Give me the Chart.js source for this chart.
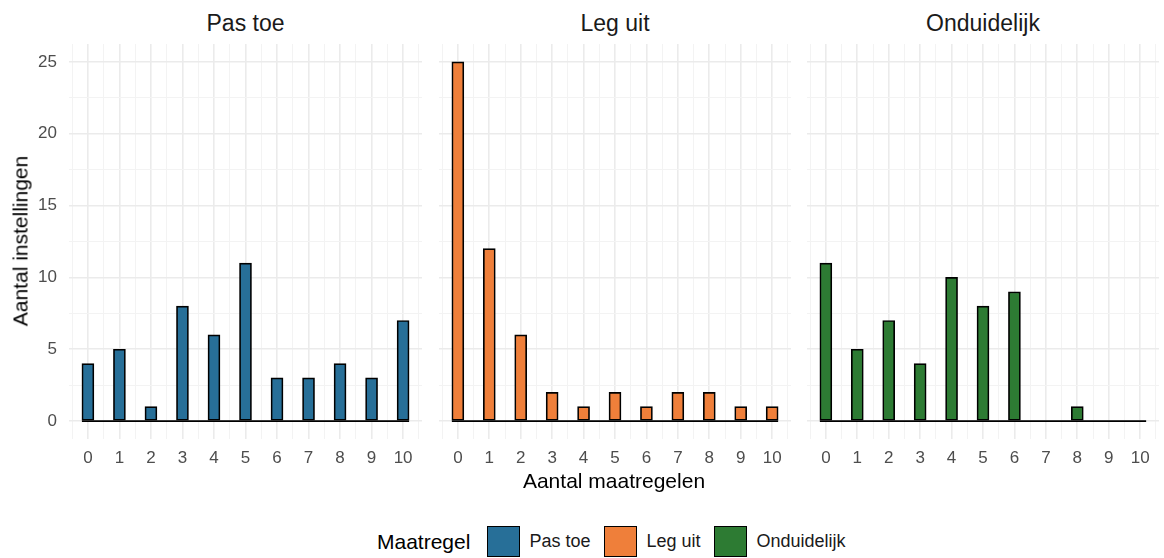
<!DOCTYPE html>
<html>
<head>
<meta charset="utf-8">
<script src="https://cdn.jsdelivr.net/npm/chart.js@4"></script>
<style>
  html, body { margin:0; padding:0; background:#ffffff; }
  body { width:1164px; height:558px; position:relative; overflow:hidden; font-family:"Liberation Sans", Arial, sans-serif; }
  .panel { position:absolute; top:44px; height:435px; }
  .strip { position:absolute; top:12px; font-size:23px; line-height:23px; color:#1a1a1a; text-align:center; white-space:nowrap; }
  .ytitle { position:absolute; left:20px; top:241px; font-size:21px; line-height:21px; color:#000; white-space:nowrap; transform:translate(-50%,-50%) rotate(-90deg); }
  .xtitle { position:absolute; left:614px; top:470px; font-size:21px; line-height:21px; color:#000; white-space:nowrap; transform:translateX(-50%); }
  .legend { position:absolute; top:526px; left:377px; height:31px; display:flex; align-items:center; white-space:nowrap; }
  .legend .ttl { font-size:21px; color:#000; margin-right:17px; }
  .legend .key { width:31px; height:29px; border:1.5px solid #000; margin-right:9px; }
  .legend .lbl { font-size:18px; color:#1a1a1a; margin-right:14px; }
</style>
</head>
<body>
<div class="strip" id="s0"></div>
<div class="strip" id="s1"></div>
<div class="strip" id="s2"></div>
<div class="panel" id="p0" style="left:0px;width:422px;"><canvas id="c0"></canvas></div>
<div class="panel" id="p1" style="left:439px;width:352px;"><canvas id="c1"></canvas></div>
<div class="panel" id="p2" style="left:807px;width:352px;"><canvas id="c2"></canvas></div>
<div class="ytitle">Aantal instellingen</div>
<div class="xtitle">Aantal maatregelen</div>
<div class="legend" id="legend"></div>
<script>
// ---- data ----
const categories = [0, 1, 2, 3, 4, 5, 6, 7, 8, 9, 10];
const seriesNames = ["Pas toe", "Leg uit", "Onduidelijk"];
const pasToe      = [4, 5, 1, 8, 6, 11, 3, 3, 4, 3, 7];
const legUit      = [25, 12, 6, 2, 1, 2, 1, 2, 2, 1, 1];
const onduidelijk = [11, 5, 7, 4, 10, 8, 9, 0, 1, 0, 0];
const seriesColors = ["#276f98", "#ef7f3a", "#2d7b33"];
const xTickValues = [-0.5, 0, 0.5, 1, 1.5, 2, 2.5, 3, 3.5, 4, 4.5, 5, 5.5, 6, 6.5, 7, 7.5, 8, 8.5, 9, 9.5, 10, 10.5];
const yTickValues = [0, 2.5, 5, 7.5, 10, 12.5, 15, 17.5, 20, 22.5, 25];
const yTitle = "Aantal instellingen";
const xTitle = "Aantal maatregelen";
const legendTitle = "Maatregel";

const seriesValues = [pasToe, legUit, onduidelijk];

const baselinePlugin = {
  id: 'baseline',
  afterDatasetsDraw(chart) {
    const meta = chart.getDatasetMeta(0);
    const first = meta.data[0], last = meta.data[meta.data.length - 1];
    const y = chart.scales.y.getPixelForValue(0);
    const ctx = chart.ctx;
    ctx.save();
    ctx.strokeStyle = '#000';
    ctx.lineWidth = 1.8;
    ctx.beginPath();
    ctx.moveTo(first.x - first.width / 2, y);
    ctx.lineTo(last.x + last.width / 2, y);
    ctx.stroke();
    ctx.restore();
  }
};

function isMajorX(c) { return c.tick && Number.isInteger(c.tick.value); }
function isMajorY(c) { return c.tick && c.tick.value % 5 === 0; }
function noPad(s) { s.paddingTop = 0; s.paddingBottom = 0; s.paddingLeft = 0; s.paddingRight = 0; }

function makeChart(idx) {
  const showY = idx === 0;
  const ctx = document.getElementById('c' + idx);
  return new Chart(ctx, {
    type: 'bar',
    data: {
      datasets: [{
        label: seriesNames[idx],
        data: categories.map((c, i) => ({ x: c, y: seriesValues[idx][i] })),
        backgroundColor: seriesColors[idx],
        borderColor: '#000',
        borderWidth: 1.7,
        borderSkipped: false,
        barThickness: 12
      }]
    },
    plugins: [baselinePlugin],
    options: {
      responsive: true,
      maintainAspectRatio: false,
      animation: false,
      layout: { padding: 0 },
      plugins: { legend: { display: false }, tooltip: { enabled: false }, title: { display: false } },
      scales: {
        x: {
          type: 'linear',
          offset: false,
          min: -0.6,
          max: 10.6,
          afterBuildTicks: (s) => { s.ticks = xTickValues.map(v => ({ value: v })); },
          afterFit: (s) => { s.height = 40; noPad(s); },
          ticks: {
            autoSkip: false,
            maxRotation: 0,
            padding: 9,
            color: '#4d4d4d',
            font: { family: "Liberation Sans", size: 17 },
            callback: (v) => Number.isInteger(v) && categories.includes(v) ? String(v) : ''
          },
          grid: {
            offset: false,
            drawTicks: false,
            color: (c) => isMajorX(c) ? '#ebebeb' : '#f3f3f3',
            lineWidth: (c) => isMajorX(c) ? 1.6 : 1
          },
          border: { display: false }
        },
        y: {
          type: 'linear',
          min: -1.25,
          max: 26.25,
          afterBuildTicks: (s) => { s.ticks = yTickValues.map(v => ({ value: v })); },
          afterFit: (s) => { s.width = showY ? 69 : 0; noPad(s); },
          ticks: {
            display: showY,
            padding: 12,
            color: '#4d4d4d',
            font: { family: "Liberation Sans", size: 17 },
            callback: (v) => v % 5 === 0 ? String(v) : ''
          },
          grid: {
            drawTicks: false,
            color: (c) => isMajorY(c) ? '#ebebeb' : '#f3f3f3',
            lineWidth: (c) => isMajorY(c) ? 1.6 : 1
          },
          border: { display: false }
        }
      }
    }
  });
}

const charts = [0, 1, 2].map(makeChart);

// strip titles centred over each chart area
charts.forEach((ch, i) => {
  const el = document.getElementById('s' + i);
  const panel = document.getElementById('p' + i);
  const ca = ch.chartArea;
  const left = panel.offsetLeft + ca.left;
  el.textContent = seriesNames[i];
  el.style.left = left + 'px';
  el.style.width = (ca.right - ca.left) + 'px';
});

document.querySelector('.ytitle').textContent = yTitle;
document.querySelector('.xtitle').textContent = xTitle;

const lg = document.getElementById('legend');
const t = document.createElement('span'); t.className = 'ttl'; t.textContent = legendTitle; lg.appendChild(t);
seriesNames.forEach((n, i) => {
  const k = document.createElement('span'); k.className = 'key'; k.style.background = seriesColors[i]; lg.appendChild(k);
  const l = document.createElement('span'); l.className = 'lbl'; l.textContent = n; lg.appendChild(l);
});
</script>
</body>
</html>
